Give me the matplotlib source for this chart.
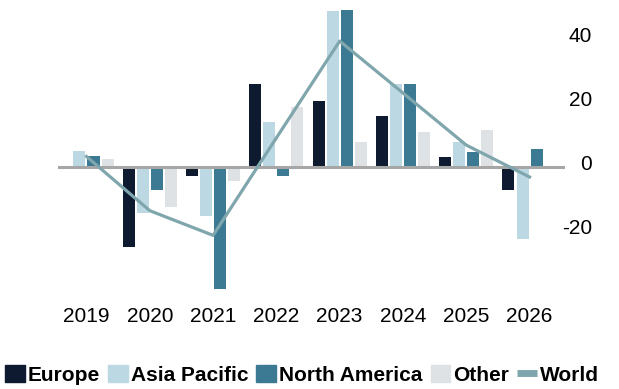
import numpy as np
import matplotlib
matplotlib.use('Agg')
import matplotlib.pyplot as plt
import matplotlib.transforms as mtrans
from matplotlib.patches import Patch
from matplotlib.lines import Line2D

# data
years = ['2019', '2020', '2021', '2022', '2023', '2024', '2025', '2026']
europe = [0, -25, -3, 25.7, 20.4, 15.7, 2.9, -7.4]
asia_pacific = [5, -14.5, -15.5, 13.8, 48.5, 25.7, 7.6, -22.6]
north_america = [3.5, -7.1, -38, -3, 48.8, 25.7, 4.5, 5.4]
other = [2.3, -12.7, -4.3, 18.5, 7.6, 10.7, 11.6, 0]
world = [3.2, -13.7, -21.4, 9, 39.2, 23, 6.75, -3.2]
y_ticks = [-20, 0, 20, 40]

c_eu = '#0e1a2f'
c_ap = '#bcd9e3'
c_na = '#3c7a93'
c_ot = '#dfe2e5'
c_wo = '#80a6ad'

fig = plt.figure(figsize=(6.19, 3.89), dpi=100)
ax = fig.add_axes([58/619, 1-295/389, 507/619, 295/389])

x = np.arange(len(years))
w = 0.19
step = 0.222
ax.bar(x - 1.5*step, europe, w, color=c_eu, zorder=2)
ax.bar(x - 0.5*step, asia_pacific, w, color=c_ap, zorder=2)
ax.bar(x + 0.5*step, north_america, w, color=c_na, zorder=2)
ax.bar(x + 1.5*step, other, w, color=c_ot, zorder=2)
ax.axhline(0, color='#a6a6a6', lw=2.2, zorder=2.5)
ax.plot(x, world, color=c_wo, lw=2.3, zorder=3)

ax.set_xlim(-0.45, 7.56)
ax.set_ylim(-40, 52)
ax.set_xticks(x)
ax.set_xticklabels(years, fontsize=15, family='Liberation Sans')
ax.set_yticks(y_ticks)
ax.set_yticklabels([str(t) for t in y_ticks], fontsize=15, family='Liberation Sans')
ax.yaxis.tick_right()
ax.tick_params(axis='y', length=0, pad=19.4)
ax.tick_params(axis='x', length=0, pad=9)
# y labels sit a few px above their gridline in the original
up = mtrans.ScaledTranslation(0, 4/100, fig.dpi_scale_trans)
for lab in ax.get_yticklabels():
    lab.set_horizontalalignment('right')
    lab.set_transform(lab.get_transform() + up)
for s in ax.spines.values():
    s.set_visible(False)

handles = [Patch(color=c_eu), Patch(color=c_ap), Patch(color=c_na),
           Patch(color=c_ot), Line2D([], [], color=c_wo, lw=5, solid_capstyle='butt')]
labels = ['Europe', 'Asia Pacific', 'North America', 'Other', 'World']
fig.legend(handles, labels, loc='center left', bbox_to_anchor=(5/619, 1-375/389),
           ncol=5, frameon=False, handlelength=0.95, handleheight=0.86,
           handletextpad=0.15, columnspacing=0.38, borderaxespad=0, borderpad=0,
           prop={'family': 'Liberation Sans', 'weight': 'bold', 'size': 15})

fig.savefig('out.png', dpi=100)
